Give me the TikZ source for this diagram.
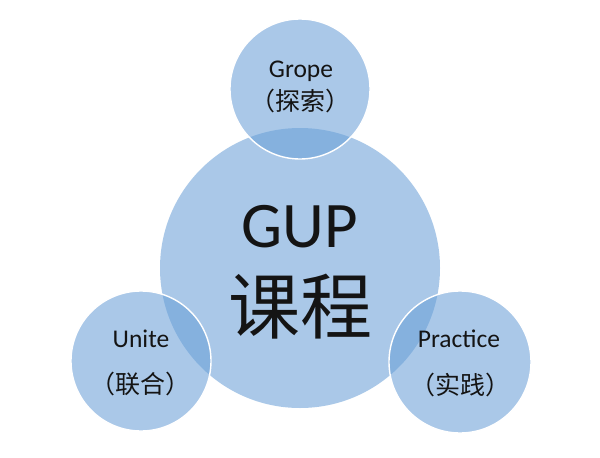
\documentclass[tikz,border=0pt]{standalone}
\usepackage{fontspec}
\setmainfont{Carlito}
\newfontfamily\cjk{Noto Sans CJK SC}
\definecolor{circblue}{RGB}{106,160,216}
\definecolor{txt}{RGB}{20,20,20}
\tikzset{
  bubble/.style={circle, inner sep=0pt, fill=circblue, fill opacity=0.57, draw=white, line width=1.4pt, draw opacity=1},
  label/.style={text=txt, inner sep=0pt, text opacity=1},
  latin/.style={label, anchor=base, font=\fontsize{25.5}{25.5}\selectfont},
  han/.style={label, anchor=center, font=\fontsize{25}{25}\cjk},
}
\begin{document}
\begin{tikzpicture}[x=1pt,y=-1pt]
\useasboundingbox[fill=white] (0,0) rectangle (600,458);
\node[bubble, draw=none, minimum size=280pt] (core) at (300,268) {};
\node[bubble, minimum size=140pt] (grope) at (300,89) {};
\node[bubble, minimum size=140pt] (unite) at (141,361) {};
\node[bubble, minimum size=142pt] (practice) at (460,362) {};
% texts
\node[label, anchor=base, font=\fontsize{65}{65}\selectfont] (gup) at (300,247) {GUP};
\node[label, anchor=center, font=\fontsize{72}{72}\cjk] (kc) at (300,307) {课程};
\node[latin] (gt) at (301,77) {Grope};
\node[han] (gc) at (300,101) {（探索）};
\node[latin] (ut) at (141,347) {Unite};
\node[han] (uc) at (140,384) {（联合）};
\node[latin] (pt) at (459,347) {Practice};
\node[han] (pc) at (460,385) {（实践）};
\end{tikzpicture}
\end{document}
